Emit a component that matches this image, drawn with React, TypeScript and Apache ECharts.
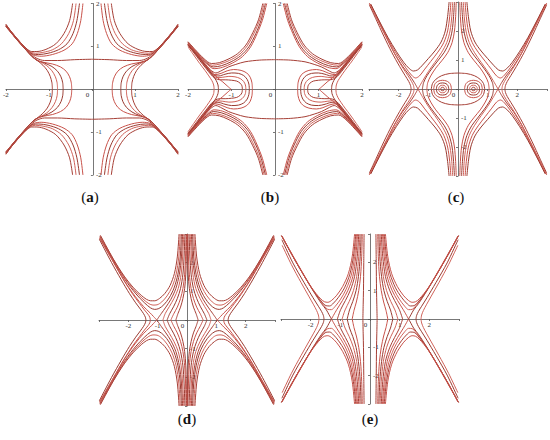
import React, { useEffect, useRef } from "react";
import * as echarts from "echarts";

type Pt = [number, number];

// ---------- Panel (a): first-quadrant curves (mirrored to all quadrants) ----------
const aMid: Pt[] = [[0,0.70],[0.4,0.69],[0.8,0.67],[1.1,0.67],[1.3,0.73],[1.45,0.86],[1.6,1.01],[1.75,1.18],[1.9,1.36],[2.0,1.47]];
const aTop: Pt[][] = [
  [[0.21,2],[0.26,1.6],[0.34,1.3],[0.46,1.06],[0.65,0.91],[0.92,0.81],[1.18,0.77],[1.36,0.80],[1.5,0.92],[1.66,1.09],[1.83,1.29],[2.0,1.49]],
  [[0.29,2],[0.35,1.6],[0.44,1.3],[0.58,1.06],[0.78,0.92],[1.02,0.84],[1.24,0.81],[1.39,0.83],[1.52,0.94],[1.68,1.11],[1.84,1.30],[2.0,1.50]],
  [[0.37,2],[0.43,1.6],[0.54,1.3],[0.71,1.06],[0.92,0.92],[1.14,0.86],[1.31,0.84],[1.43,0.87],[1.55,0.97],[1.7,1.13],[1.85,1.31],[2.0,1.51]],
  [[0.45,2],[0.52,1.6],[0.65,1.3],[0.84,1.06],[1.07,0.93],[1.28,0.88],[1.4,0.88],[1.5,0.93],[1.6,1.02],[1.73,1.16],[1.87,1.33],[2.0,1.52]],
];
const aSide: Pt[][] = [
  [[0.47,0],[0.48,0.15],[0.52,0.29],[0.6,0.42],[0.73,0.52],[0.92,0.59],[1.13,0.63],[1.3,0.69],[1.44,0.82],[1.6,0.99],[1.76,1.17],[1.9,1.34],[2.0,1.46]],
  [[0.67,0],[0.68,0.15],[0.72,0.29],[0.8,0.42],[0.93,0.53],[1.1,0.61],[1.27,0.67],[1.41,0.78],[1.56,0.95],[1.72,1.13],[1.87,1.31],[2.0,1.46]],
  [[0.8,0],[0.81,0.15],[0.85,0.29],[0.93,0.43],[1.05,0.55],[1.2,0.64],[1.34,0.72],[1.47,0.85],[1.62,1.02],[1.78,1.2],[1.9,1.35],[2.0,1.47]],
  [[0.92,0],[0.93,0.15],[0.97,0.3],[1.04,0.44],[1.14,0.56],[1.27,0.67],[1.39,0.76],[1.52,0.9],[1.67,1.07],[1.82,1.25],[2.0,1.48]],
];

// ---------- Panel (b) ----------
const bMid: Pt[] = [[0,0.69],[0.35,0.68],[0.69,0.64],[0.9,0.58],[1.07,0.52],[1.22,0.44],[1.36,0.38],[1.48,0.45],[1.62,0.61],[1.77,0.79],[1.9,0.95],[2.0,1.06]];
const bTop: Pt[][] = [
  [[0.19,2],[0.29,1.61],[0.41,1.3],[0.56,0.99],[0.75,0.76],[0.98,0.61],[1.21,0.51],[1.40,0.48],[1.6,0.62],[1.82,0.86],[2.0,1.08]],
  [[0.22,2],[0.32,1.61],[0.44,1.3],[0.6,0.99],[0.79,0.78],[1.01,0.64],[1.23,0.55],[1.42,0.52],[1.61,0.65],[1.82,0.88],[2.0,1.09]],
  [[0.25,2],[0.35,1.62],[0.48,1.31],[0.64,1.01],[0.83,0.8],[1.05,0.67],[1.26,0.59],[1.44,0.56],[1.62,0.68],[1.83,0.9],[2.0,1.1]],
  [[0.28,2],[0.38,1.62],[0.51,1.32],[0.67,1.03],[0.86,0.83],[1.08,0.7],[1.28,0.62],[1.46,0.6],[1.63,0.71],[1.84,0.93],[2.0,1.11]],
];
const bLoops: Pt[][] = [
  [[0.52,0],[0.53,0.15],[0.57,0.28],[0.65,0.38],[0.78,0.44],[0.95,0.46],[1.1,0.43],[1.24,0.37],[1.38,0.34],[1.5,0.45],[1.64,0.62],[1.8,0.82],[2.0,1.05]],
  [[0.59,0],[0.6,0.12],[0.64,0.23],[0.72,0.32],[0.84,0.37],[1.0,0.38],[1.15,0.35],[1.29,0.31],[1.41,0.33],[1.53,0.46],[1.67,0.64],[1.83,0.84],[2.0,1.04]],
  [[0.67,0],[0.68,0.1],[0.72,0.18],[0.8,0.25],[0.92,0.29],[1.06,0.3],[1.2,0.28],[1.33,0.27],[1.44,0.33],[1.56,0.47],[1.7,0.65],[1.86,0.86],[2.0,1.03]],
  [[0.75,0],[0.76,0.08],[0.8,0.14],[0.88,0.19],[1.0,0.21],[1.13,0.22],[1.26,0.22],[1.37,0.25],[1.47,0.34],[1.59,0.49],[1.73,0.67],[1.88,0.87],[2.0,1.02]],
];
const bOuter: Pt[][] = [
  [[1.01,0],[1.1,0.08],[1.2,0.17],[1.32,0.27],[1.44,0.38],[1.57,0.53],[1.72,0.71],[1.87,0.89],[2.0,1.05]],
  [[1.3,0],[1.31,0.1],[1.35,0.2],[1.42,0.31],[1.52,0.44],[1.65,0.61],[1.8,0.8],[2.0,1.04]],
  [[1.4,0],[1.41,0.1],[1.45,0.2],[1.52,0.31],[1.61,0.44],[1.73,0.6],[1.87,0.8],[2.0,0.99]],
];

// ---------- Panel (c) ----------
const cOval: Pt[] = [[0,0.55],[0.3,0.53],[0.55,0.46],[0.74,0.34],[0.86,0.19],[0.9,0]];
const cNest: Pt[][] = [
  [[0.82,0],[0.79,0.15],[0.73,0.23],[0.64,0.28],[0.52,0.3],[0.4,0.28],[0.31,0.23],[0.25,0.15],[0.22,0]],
  [[0.73,0],[0.71,0.1],[0.67,0.16],[0.6,0.2],[0.52,0.21],[0.44,0.2],[0.37,0.16],[0.33,0.1],[0.31,0]],
  [[0.65,0],[0.64,0.06],[0.61,0.1],[0.57,0.125],[0.52,0.13],[0.47,0.125],[0.43,0.1],[0.4,0.06],[0.39,0]],
  [[0.58,0],[0.57,0.04],[0.55,0.055],[0.52,0.06],[0.49,0.055],[0.47,0.04],[0.46,0]],
];
const cInner: Pt[][] = [
  [[0.06,3],[0.08,2.5],[0.12,2.0],[0.2,1.6],[0.35,1.25],[0.55,0.97],[0.75,0.72],[0.92,0.45],[1.02,0.22],[1.05,0]],
  [[0.12,3],[0.15,2.5],[0.2,2.0],[0.3,1.6],[0.46,1.27],[0.66,1.0],[0.87,0.72],[1.05,0.45],[1.16,0.22],[1.2,0]],
  [[0.18,3],[0.21,2.5],[0.27,2.0],[0.38,1.6],[0.56,1.25],[0.78,0.92],[1.0,0.6],[1.18,0.3],[1.35,0]],
];
const cOuter: Pt[][] = [
  [[1.35,0],[1.47,0.22],[1.64,0.48],[1.86,0.77],[2.14,1.23],[2.42,1.8],[2.7,2.38],[2.98,2.95]],
  [[0.24,3],[0.28,2.5],[0.35,2.0],[0.48,1.6],[0.68,1.27],[0.92,0.95],[1.14,0.66],[1.3,0.45],[1.43,0.38],[1.56,0.47],[1.76,0.73],[2.03,1.14],[2.33,1.67],[2.63,2.27],[2.95,2.92]],
  [[0.3,3],[0.35,2.5],[0.43,2.0],[0.57,1.62],[0.78,1.31],[1.0,1.05],[1.2,0.82],[1.36,0.66],[1.5,0.62],[1.64,0.7],[1.83,0.92],[2.08,1.3],[2.36,1.78],[2.65,2.34],[2.94,2.93]],
  [[1.48,0],[1.5,0.12],[1.56,0.25],[1.68,0.45],[1.88,0.76],[2.15,1.24],[2.43,1.8],[2.72,2.4],[2.99,2.96]],
  [[1.58,0],[1.6,0.12],[1.66,0.26],[1.78,0.46],[1.97,0.78],[2.23,1.26],[2.5,1.82],[2.77,2.42],[2.99,2.9]],
];

// ---------- Panel (d) ----------
const dInner: Pt[][] = [
  [[0.015,3],[0.025,2.2],[0.04,1.6],[0.08,1.1],[0.14,0.75],[0.22,0.45],[0.31,0.22],[0.38,0]],
  [[0.03,3],[0.05,2.2],[0.08,1.6],[0.14,1.1],[0.22,0.75],[0.33,0.45],[0.45,0.22],[0.55,0]],
  [[0.07,3],[0.1,2.2],[0.14,1.6],[0.22,1.1],[0.33,0.75],[0.46,0.46],[0.59,0.22],[0.68,0]],
  [[0.11,3],[0.15,2.2],[0.2,1.6],[0.3,1.1],[0.44,0.76],[0.6,0.47],[0.74,0.23],[0.82,0]],
  [[0.15,3],[0.19,2.2],[0.26,1.6],[0.38,1.1],[0.55,0.72],[0.72,0.45],[0.88,0.22],[1.03,0]],
];
const dOuter: Pt[][] = [
  [[1.03,0],[1.14,0.12],[1.26,0.25],[1.49,0.48],[1.77,0.83],[2.12,1.34],[2.51,2.03],[2.98,2.88]],
  [[0.19,3],[0.23,2.2],[0.31,1.6],[0.44,1.12],[0.61,0.77],[0.79,0.53],[0.96,0.4],[1.1,0.37],[1.24,0.42],[1.44,0.59],[1.74,0.91],[2.1,1.39],[2.5,2.06],[2.97,2.92]],
  [[0.23,3],[0.28,2.2],[0.37,1.6],[0.51,1.15],[0.68,0.84],[0.86,0.63],[1.02,0.53],[1.16,0.52],[1.3,0.57],[1.5,0.73],[1.78,1.02],[2.12,1.46],[2.5,2.1],[2.96,2.94]],
  [[0.27,3],[0.33,2.2],[0.43,1.62],[0.58,1.2],[0.76,0.92],[0.94,0.75],[1.1,0.67],[1.24,0.67],[1.38,0.72],[1.56,0.86],[1.82,1.12],[2.14,1.53],[2.52,2.14],[2.95,2.95]],
  [[1.25,0],[1.27,0.1],[1.33,0.2],[1.45,0.35],[1.62,0.58],[1.85,0.9],[2.15,1.38],[2.5,2.0],[2.98,2.86]],
  [[1.4,0],[1.42,0.1],[1.48,0.22],[1.59,0.38],[1.75,0.6],[1.96,0.92],[2.24,1.4],[2.57,2.0],[2.99,2.82]],
];

// ---------- Panel (e) ----------
const eInner: Pt[][] = [
  [[0.2,3],[0.21,2],[0.22,1],[0.23,0.5],[0.24,0]],
  [[0.26,3],[0.28,2.2],[0.32,1.5],[0.38,1.0],[0.46,0.6],[0.54,0.3],[0.6,0]],
  [[0.3,3],[0.33,2.2],[0.39,1.5],[0.47,1.0],[0.58,0.62],[0.69,0.32],[0.77,0]],
  [[0.34,3],[0.38,2.2],[0.45,1.5],[0.56,1.0],[0.70,0.62],[0.84,0.32],[0.94,0]],
  [[0.38,3],[0.43,2.2],[0.52,1.5],[0.66,1.02],[0.83,0.65],[0.99,0.33],[1.1,0]],
  [[0.42,3],[0.48,2.2],[0.58,1.5],[0.74,1.02],[0.93,0.65],[1.12,0.33],[1.3,0]],
];
const eOuter: Pt[][] = [
  [[1.3,0],[1.38,0.15],[1.47,0.32],[1.64,0.55],[1.86,0.9],[2.2,1.49],[2.59,2.19],[2.99,2.95]],
  [[0.45,3],[0.52,2.2],[0.63,1.55],[0.8,1.06],[0.99,0.7],[1.17,0.45],[1.3,0.33],[1.42,0.34],[1.54,0.46],[1.7,0.68],[1.92,1.02],[2.24,1.58],[2.6,2.24],[2.98,2.94]],
  [[0.48,3],[0.56,2.2],[0.68,1.58],[0.86,1.1],[1.06,0.77],[1.23,0.56],[1.36,0.46],[1.48,0.47],[1.6,0.58],[1.76,0.78],[1.98,1.11],[2.28,1.63],[2.63,2.27],[2.97,2.93]],
  [[0.52,3],[0.6,2.2],[0.73,1.6],[0.92,1.15],[1.12,0.84],[1.29,0.66],[1.42,0.59],[1.54,0.61],[1.66,0.71],[1.82,0.9],[2.03,1.2],[2.32,1.7],[2.66,2.32],[2.96,2.91]],
  [[1.55,0],[1.57,0.12],[1.63,0.26],[1.74,0.45],[1.92,0.75],[2.22,1.28],[2.6,1.98],[2.97,2.8]],
  [[1.72,0],[1.74,0.14],[1.8,0.3],[1.9,0.5],[2.05,0.78],[2.32,1.28],[2.65,1.92],[2.96,2.6]],
];

const panelLetters = ["a", "b", "c", "d", "e"];
const panelRanges = [2, 2, 3, 3, 3];
const panelCurves: Pt[][][] = [
  [aMid, ...aTop, ...aSide],
  [bMid, ...bTop, ...bLoops, ...bOuter],
  [cOval, ...cNest, ...cInner, ...cOuter],
  [...dInner, ...dOuter],
  [...eInner, ...eOuter],
];

// layout (pixels)
const grids = [
  { left: 4, top: 3, width: 174, height: 172 },
  { left: 188, top: 3, width: 174, height: 172 },
  { left: 369, top: 2, width: 178, height: 174 },
  { left: 99, top: 234, width: 176, height: 172 },
  { left: 281, top: 234, width: 178, height: 170 },
];
const labelPos = [
  [90, 197], [270, 197], [456, 197], [187, 419], [370, 419],
];

const colors = ["#a63f36", "#c8524a", "#9a3a30", "#d0635a"];
const quadrants: Pt[] = [[1, 1], [-1, 1], [1, -1], [-1, -1]];

export default function App() {
  const ref = useRef<HTMLDivElement>(null);
  useEffect(() => {
    if (!ref.current) return;
    const chart = echarts.init(ref.current, undefined, { renderer: "svg" });
    const series: any[] = [];
    panelCurves.forEach((curves, pi) => {
      curves.forEach((curve, ci) => {
        quadrants.forEach(([sx, sy]) => {
          series.push({
            type: "line",
            xAxisIndex: pi,
            yAxisIndex: pi,
            data: curve.map(([x, y]) => [x * sx, y * sy]),
            smooth: 0.3,
            symbol: "none",
            silent: true,
            lineStyle: { width: 1, color: colors[ci % colors.length] },
          });
        });
      });
    });
    const axisCommon = (r: number) => ({
      type: "value",
      min: -r,
      max: r,
      interval: 1,
      splitLine: { show: false },
      axisLine: { onZero: false, lineStyle: { color: "#555", width: 0.8 } },
      axisTick: { show: true, length: 2, lineStyle: { color: "#555", width: 0.8 } },
    });
    const labelStyle = { fontSize: 7, color: "#333", fontFamily: "Liberation Serif" };
    chart.setOption({
      animation: false,
      grid: grids,
      xAxis: panelRanges.map((r, i) => ({
        ...axisCommon(r),
        gridIndex: i,
        position: "bottom",
        offset: -grids[i].height / 2,
        axisLabel: {
          ...labelStyle,
          margin: 2,
          showMinLabel: true,
          showMaxLabel: true,
          formatter: (v: number) => (Math.abs(v) > 2 ? "" : v === 0 ? "{z|0}" : String(v)),
          rich: { z: { ...labelStyle, padding: [0, 9, 0, 0] } },
        },
      })),
      yAxis: panelRanges.map((r, i) => ({
        ...axisCommon(r),
        gridIndex: i,
        position: "left",
        offset: -grids[i].width / 2,
        axisLabel: {
          ...labelStyle,
          inside: true,
          margin: 3,
          showMinLabel: true,
          showMaxLabel: true,
          formatter: (v: number) => (Math.abs(v) > 2 || v === 0 ? "" : String(v)),
        },
      })),
      series,
      graphic: panelLetters.map((l, i) => ({
        type: "text",
        x: labelPos[i][0],
        y: labelPos[i][1],
        style: {
          text: `{p|(}{b|${l}}{p|)}`,
          align: "center",
          verticalAlign: "middle",
          rich: {
            p: { fontFamily: "Liberation Serif", fontSize: 15, fill: "#111" },
            b: { fontFamily: "Liberation Serif", fontSize: 15, fontWeight: "bold", fill: "#111" },
          },
        },
      })),
    });
    return () => chart.dispose();
  }, []);
  return (
    <div
      ref={ref}
      style={{ position: "absolute", left: 0, top: 0, width: 550, height: 440, background: "#fff" }}
    />
  );
}
